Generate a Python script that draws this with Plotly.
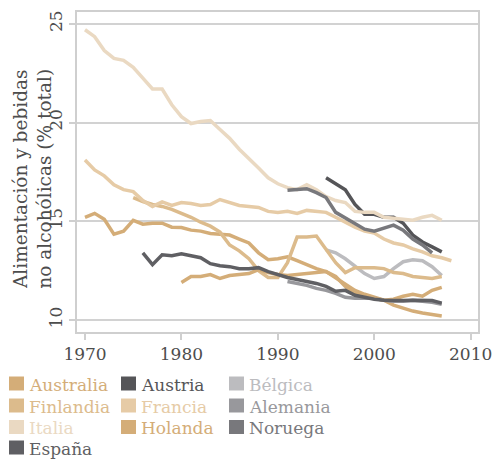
import plotly.graph_objects as go

# Food & non-alcoholic beverages, share of total household consumption (%)
australia_years = list(range(1970, 2008))
australia = [15.2, 15.4, 15.1, 14.35, 14.5, 15.05, 14.85, 14.9, 14.9, 14.7,
             14.68, 14.55, 14.5, 14.38, 14.34, 14.3, 14.1, 13.9, 13.4, 13.05,
             13.1, 13.2, 13.0, 12.8, 12.6, 12.45, 12.15, 11.85, 11.5, 11.3,
             11.15, 11.0, 10.75, 10.6, 10.45, 10.35, 10.28, 10.2]

austria_years = list(range(1995, 2008))
austria = [17.2, 16.9, 16.6, 15.85, 15.35, 15.35, 15.2, 15.2, 14.9, 14.3,
           13.95, 13.7, 13.45]

belgica_years = list(range(1995, 2008))
belgica = [13.55, 13.4, 13.1, 12.75, 12.35, 12.1, 12.2, 12.6, 12.95, 13.05,
           13.0, 12.7, 12.25]

finlandia_years = list(range(1975, 2008))
finlandia = [16.2, 16.0, 15.85, 15.75, 15.6, 15.4, 15.2, 14.95, 14.75, 14.45,
             13.8, 13.5, 13.1, 12.5, 12.15, 12.15, 12.9, 14.2, 14.2, 14.25,
             13.55, 12.9, 12.4, 12.65, 12.65, 12.65, 12.6, 12.4, 12.35, 12.2,
             12.15, 12.1, 12.2]

francia_years = list(range(1970, 2009))
francia = [18.1, 17.6, 17.3, 16.85, 16.6, 16.5, 16.05, 15.75, 15.98, 15.8,
           15.95, 15.9, 15.8, 15.85, 16.1, 15.95, 15.8, 15.75, 15.7, 15.5,
           15.45, 15.5, 15.4, 15.55, 15.5, 15.45, 15.2, 14.95, 14.7, 14.5,
           14.4, 14.1, 13.9, 13.8, 13.6, 13.45, 13.25, 13.15, 13.0]

alemania_years = list(range(1991, 2008))
alemania = [11.95, 11.85, 11.75, 11.6, 11.5, 11.35, 11.15, 11.1, 11.1, 11.1,
            11.0, 10.95, 10.95, 11.0, 10.95, 10.9, 10.8]

italia_years = list(range(1970, 2008))
italia = [24.7, 24.35, 23.65, 23.25, 23.15, 22.8, 22.25, 21.7, 21.7, 20.9,
          20.3, 19.95, 20.05, 20.1, 19.65, 19.2, 18.65, 18.2, 17.7, 17.2,
          16.9, 16.7, 16.6, 16.85, 16.6, 16.25, 16.05, 15.95, 15.5, 15.45,
          15.45, 15.2, 15.15, 15.1, 15.05, 15.2, 15.3, 15.05]

holanda_years = list(range(1980, 2008))
holanda = [11.9, 12.2, 12.2, 12.3, 12.1, 12.25, 12.3, 12.35, 12.55, 12.4,
           12.3, 12.25, 12.3, 12.35, 12.4, 12.45, 12.2, 11.7, 11.35, 11.2,
           11.1, 11.0, 11.05, 11.2, 11.3, 11.2, 11.5, 11.65]

noruega_years = list(range(1991, 2007))
noruega = [16.57, 16.62, 16.65, 16.45, 16.2, 15.45, 15.15, 14.9, 14.6, 14.5,
           14.65, 14.8, 14.55, 14.1, 13.8, 13.4]

espana_years = list(range(1976, 2008))
espana = [13.4, 12.8, 13.3, 13.25, 13.35, 13.25, 13.15, 12.85, 12.75, 12.7,
          12.6, 12.6, 12.65, 12.45, 12.3, 12.15, 12.05, 11.95, 11.85, 11.7,
          11.45, 11.5, 11.25, 11.15, 11.05, 11.0, 10.98, 10.98, 11.0, 11.0,
          10.98, 10.85]

countries = ["Australia", "Austria", "Bélgica", "Finlandia", "Francia",
             "Alemania", "Italia", "Holanda", "Noruega", "España"]
series = [(australia_years, australia), (austria_years, austria),
          (belgica_years, belgica), (finlandia_years, finlandia),
          (francia_years, francia), (alemania_years, alemania),
          (italia_years, italia), (holanda_years, holanda),
          (noruega_years, noruega), (espana_years, espana)]
colors = ["#d4ad78", "#555558", "#bcbcbf", "#dcbb8c", "#e6cba6",
          "#98989c", "#ead9c2", "#d4ad78", "#78787c", "#5f5f63"]

x_ticks = [1970, 1980, 1990, 2000, 2010]
y_ticks = [10, 15, 20, 25]

FONT = "DejaVu Serif"
TEXT = "#4d4d4d"
AXIS = "#cfcfcf"

# plot area in pixels
W, H = 493, 459
L, R, T, B = 77, 15, 12, 127
PW, PH = W - L - R, H - T - B


def px_x(px):
    return (px - L) / PW


def px_y(py):
    return (H - B - py) / PH


fig = go.Figure()

for name, (xs, ys), col in zip(countries, series, colors):
    fig.add_trace(go.Scatter(
        x=xs, y=ys, mode="lines", name=name, showlegend=False,
        line=dict(color=col, width=3.5), hoverinfo="skip"))

# legend: three columns, filled row by row
col_x = [9, 121, 229]
row_y = [383.5, 405.5, 427, 447.5]
for i, (name, col) in enumerate(zip(countries, colors)):
    r, c = divmod(i, 3)
    sx, cy = col_x[c], row_y[r]
    fig.add_shape(type="rect", xref="paper", yref="paper",
                  x0=px_x(sx), x1=px_x(sx + 15),
                  y0=px_y(cy + 7), y1=px_y(cy - 7),
                  fillcolor=col, line=dict(width=0))
    fig.add_annotation(text=name, xref="paper", yref="paper",
                       x=px_x(sx + 19), y=px_y(cy + 1),
                       xanchor="left", yanchor="middle", showarrow=False,
                       borderpad=0,
                       font=dict(family=FONT, size=17, color=col))

fig.update_layout(
    width=W, height=H,
    margin=dict(l=L, r=R, t=T, b=B, autoexpand=False),
    paper_bgcolor="white", plot_bgcolor="white",
    font=dict(family=FONT, size=17, color=TEXT),
    showlegend=False,
    xaxis=dict(
        range=[1969.17, 2010.76], tickvals=x_ticks,
        ticktext=[str(v) for v in x_ticks],
        showgrid=False, zeroline=False,
        showline=True, mirror=True, linecolor=AXIS, linewidth=2,
        ticks="outside", ticklen=6, tickcolor=AXIS, tickwidth=1.5,
        tickfont=dict(family=FONT, size=17, color=TEXT),
    ),
    yaxis=dict(
        range=[9.39, 25.6], tickvals=y_ticks,
        ticktext=[str(v) for v in y_ticks],
        showgrid=True, gridcolor="#d2d2d2", gridwidth=1.5,
        zeroline=False,
        showline=True, mirror=True, linecolor=AXIS, linewidth=2,
        ticks="outside", ticklen=6, tickcolor=AXIS, tickwidth=1.5,
        tickangle=-90,
        tickfont=dict(family=FONT, size=17, color=TEXT),
    ),
)

fig.add_annotation(
    text="Alimentación y bebidas<br>no alcohólicas (% total)",
    xref="paper", yref="paper", x=px_x(32), y=px_y(179),
    xanchor="center", yanchor="middle", textangle=-90, showarrow=False,
    font=dict(family=FONT, size=18.5, color=TEXT),
)

fig.write_html("out.html")
